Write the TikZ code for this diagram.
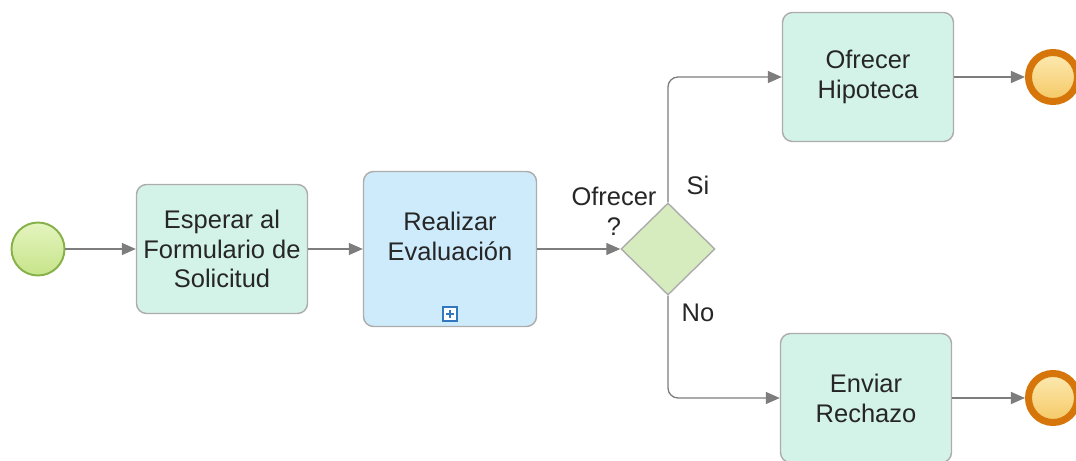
\documentclass[tikz,border=0pt]{standalone}
\usepackage{fontspec}
\setmainfont{Liberation Sans}
\usetikzlibrary{%
        arrows.meta,
        positioning,
        shapes.geometric
    }
\definecolor{taskgreen}{RGB}{212, 243, 232}
\definecolor{taskblue}{RGB}{206, 235, 252}
\definecolor{gatewaygreen}{RGB}{214, 236, 190}
\definecolor{edgegray}{RGB}{172, 172, 172}
\definecolor{flowgray}{RGB}{125, 125, 125}
\definecolor{endorange}{RGB}{214, 118, 10}
\definecolor{endtop}{RGB}{252, 234, 178}
\definecolor{endbottom}{RGB}{245, 200, 100}
\definecolor{startgreen}{RGB}{134, 176, 72}
\definecolor{starttop}{RGB}{228, 244, 190}
\definecolor{startbottom}{RGB}{198, 228, 138}
\definecolor{markerblue}{RGB}{50, 120, 190}
\tikzset{%
    task/.style={%
        draw=edgegray, line width=0.8pt, rounded corners=0.2cm,
        fill=taskgreen, minimum width=3.42cm, minimum height=2.58cm,
        align=center, text=black!85,
        font=\fontsize{14.5}{17}\selectfont
    },
    subtask/.style={task, fill=taskblue, minimum width=3.46cm,
        minimum height=3.1cm},
    gateway/.style={%
        diamond, draw=edgegray, line width=0.8pt, fill=gatewaygreen,
        minimum width=1.88cm, minimum height=1.84cm, inner sep=0pt
    },
    startevent/.style={%
        circle, draw=startgreen, line width=1.1pt, minimum size=1.06cm,
        top color=starttop, bottom color=startbottom, inner sep=0pt
    },
    endevent/.style={%
        circle, draw=endorange, line width=4pt, minimum size=0.98cm,
        top color=endtop, bottom color=endbottom, inner sep=0pt
    },
    lbl/.style={text=black!85, font=\fontsize{14.5}{17}\selectfont,
        align=center},
    flow/.style={draw=flowgray, line width=0.75pt, rounded corners=0.2cm,
        -{Triangle[length=0.28cm, width=0.24cm]}}
}

\begin{document}
\begin{tikzpicture}

    \useasboundingbox (0, 0) rectangle (21.52, 9.2);

    % Events and tasks
    \node[startevent] (start) at (0.76, 4.22) {};
    \node[task] (wait) at (4.44, 4.22) {Esperar al\\Formulario de\\Solicitud};
    \node[subtask] (eval) at (9, 4.22) {Realizar\\Evaluación\\[-0.08cm]};
    \node[draw=markerblue, line width=0.7pt, fill=white, minimum size=0.28cm,
        inner sep=0pt] (plus) at (9, 2.92) {};
    \draw[markerblue, line width=0.7pt] ([xshift=-0.08cm] plus.center)
        -- ([xshift=0.08cm] plus.center)
        ([yshift=-0.08cm] plus.center) -- ([yshift=0.08cm] plus.center);

    % Gateway
    \node[gateway] (gw) at (13.36, 4.22) {};
    \node[lbl] (gwlabel) at (12.28, 4.98) {Ofrecer\\?};
    \node[lbl] (yes) at (13.96, 5.5) {Si};
    \node[lbl] (no) at (13.96, 2.94) {No};

    \node[task] (offer) at (17.36, 7.66) {Ofrecer\\Hipoteca};
    \node[task] (reject) at (17.32, 1.24) {Enviar\\Rechazo};

    \node[endevent] (endyes) at (21.06, 7.66) {};
    \node[endevent] (endno) at (21.06, 1.24) {};

    % Sequence flows
    \draw[flow] (start) -- (wait);
    \draw[flow] (wait) -- (eval);
    \draw[flow] (eval) -- (gw);
    \draw[flow] (gw.north) |- (offer.west);
    \draw[flow] (gw.south) |- (reject.west);
    \draw[flow] (offer) -- (endyes);
    \draw[flow] (reject) -- (endno);

\end{tikzpicture}
\end{document}
